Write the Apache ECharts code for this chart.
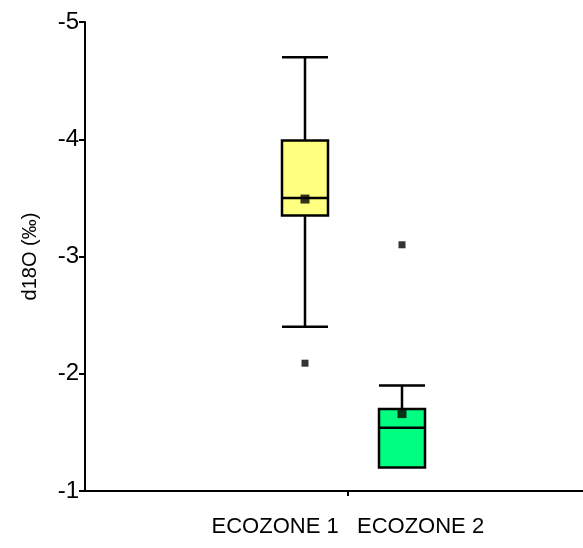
<!DOCTYPE html>
<html><head><meta charset="utf-8">
<script src="https://cdn.jsdelivr.net/npm/echarts@6/dist/echarts.min.js"></script>
<style>html,body{margin:0;padding:0;background:#fff}#c{width:583px;height:548px}</style>
</head><body><div id="c"></div>
<script>
// categories and values
const categories = ['ECOZONE 1', 'ECOZONE 2'];
const xAxisLabel = 'ECOZONE 1   ECOZONE 2';
// [min(whisker top), Q1, median, Q3, max(whisker bottom)]
const ecozone1Box = [-4.70, -3.99, -3.50, -3.35, -2.40];
const ecozone2Box = [-1.90, -1.70, -1.54, -1.20, -1.20];
const meanValues = [-3.49, -1.66];
const outlierValues = [-2.09, -3.10];
const yMin = -5, yMax = -1, yInterval = 1;
const yName = 'd18O (‰)';

// the visible x axis has a single labelled tick; it is slot 9 of 18 slots
const xSlotCount = 18, xLabelSlot = 9;
const xSlots = Array.from({length: xSlotCount}, (_, i) => i === xLabelSlot ? xAxisLabel : '');

const boxColors = ['#FFFF80', '#00FF80'];
const font = 'Liberation Sans, Arial, sans-serif';

const chart = echarts.init(document.getElementById('c'), null, {renderer: 'canvas'});
const axisLineStyle = {color: '#000', width: 2};
const onlyLabelSlot = (i) => i === xLabelSlot;

chart.setOption({
  backgroundColor: '#fff',
  animation: false,
  grid: [
    {left: 85, top: 22, right: 0, height: 469},
    {left: 256.5, top: 22, width: 194, height: 469}
  ],
  xAxis: [
    {
      type: 'category', gridIndex: 0, data: xSlots, boundaryGap: true,
      axisLine: {show: true, lineStyle: axisLineStyle},
      axisTick: {show: true, alignWithLabel: true, interval: onlyLabelSlot, length: 5, lineStyle: axisLineStyle},
      axisLabel: {color: '#000', fontSize: 22, fontFamily: font, margin: 25, interval: onlyLabelSlot},
      splitLine: {show: false}
    },
    {
      type: 'category', gridIndex: 1, data: categories, boundaryGap: true,
      show: false
    }
  ],
  yAxis: [
    {
      type: 'value', gridIndex: 0, inverse: true, min: yMin, max: yMax, interval: yInterval,
      name: yName, nameLocation: 'middle', nameGap: 45, nameRotate: 90,
      nameTextStyle: {color: '#000', fontSize: 20, fontFamily: font},
      axisLine: {show: true, lineStyle: axisLineStyle},
      axisTick: {show: true, length: 6, lineStyle: axisLineStyle},
      axisLabel: {color: '#000', fontSize: 24, fontFamily: font, margin: 6},
      splitLine: {show: false}
    },
    {
      type: 'value', gridIndex: 1, inverse: true, min: yMin, max: yMax, interval: yInterval,
      show: false, splitLine: {show: false}
    }
  ],
  series: [
    {
      type: 'boxplot', xAxisIndex: 1, yAxisIndex: 1,
      boxWidth: [46, 46],
      itemStyle: {borderColor: '#000', borderWidth: 2.5},
      data: [
        {value: ecozone1Box, itemStyle: {color: boxColors[0], borderColor: '#000', borderWidth: 2.5}},
        {value: ecozone2Box, itemStyle: {color: boxColors[1], borderColor: '#000', borderWidth: 2.5}}
      ],
      z: 2
    },
    {
      type: 'scatter', xAxisIndex: 1, yAxisIndex: 1, symbol: 'rect', symbolSize: 9,
      itemStyle: {color: '#000'},
      data: categories.map((c, i) => [c, meanValues[i]]),
      z: 5
    },
    {
      type: 'scatter', xAxisIndex: 1, yAxisIndex: 1, symbol: 'rect', symbolSize: 7,
      itemStyle: {color: '#000'},
      data: categories.map((c, i) => [c, outlierValues[i]]),
      z: 5
    }
  ]
});
</script>
</body></html>
